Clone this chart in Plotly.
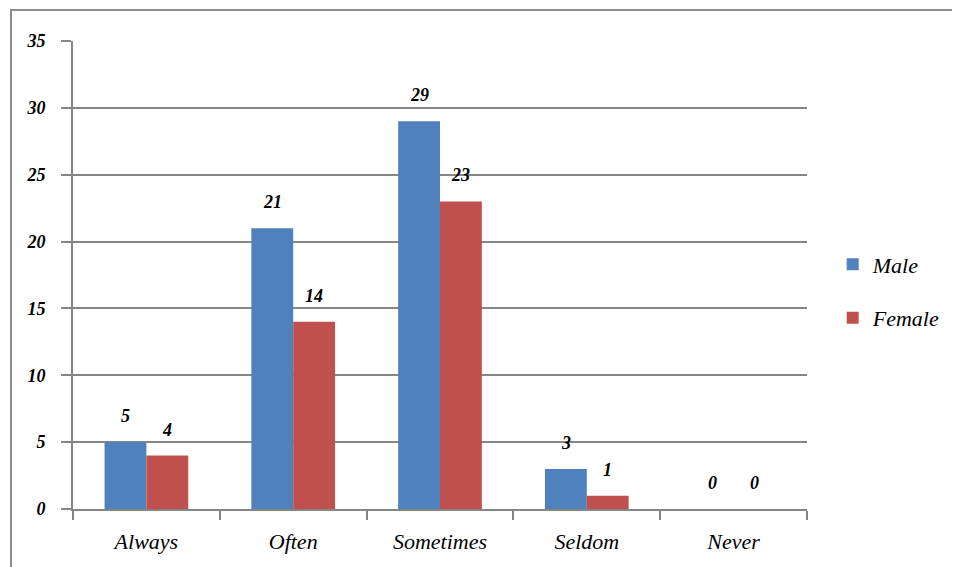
import plotly.graph_objects as go

categories = ["Always", "Often", "Sometimes", "Seldom", "Never"]
male = [5, 21, 29, 3, 0]
female = [4, 14, 23, 1, 0]
y_ticks = [0, 5, 10, 15, 20, 25, 30, 35]

label_font = dict(family="Liberation Serif", size=18, color="black", style="italic", weight="bold")

# page body has an 8px offset; margins compensate
L, R, T, B = 65, 161, 33, 66
W, H = 960, 567
pw, ph = W - L - R, H - T - B
BARGAP = 0.43
half_bar_px = pw / len(categories) * (1 - BARGAP) / 4

fig = go.Figure()
fig.add_trace(go.Bar(x=categories, y=male, name="Male", marker_color="#4F81BD",
                     marker_line_width=0, legendgroup="m"))
fig.add_trace(go.Bar(x=categories, y=female, name="Female", marker_color="#C0504D",
                     marker_line_width=0, legendgroup="f"))

annotations = []
for series, sign in ((male, -1), (female, 1)):
    for c, v in zip(categories, series):
        annotations.append(dict(
            x=c, y=v, xref="x", yref="y", text=str(v), showarrow=False,
            xanchor="center", yanchor="middle", xshift=sign * half_bar_px, yshift=26,
            font=label_font,
        ))

fig.update_layout(
    width=W, height=H,
    margin=dict(l=L, r=R, t=T, b=B),
    paper_bgcolor="white", plot_bgcolor="white",
    barmode="group", bargap=BARGAP, bargroupgap=0,
    showlegend=True,
    legend=dict(
        x=1.035, y=0.465, xanchor="left", yanchor="middle",
        font=dict(family="Liberation Serif", size=22, color="black", style="italic"),
        traceorder="grouped", tracegroupgap=22, itemwidth=30,
    ),
    annotations=annotations,
    xaxis=dict(
        showgrid=False, showline=True, linecolor="#868686", linewidth=2,
        ticks="outside", tickson="boundaries", ticklen=9, tickwidth=2, tickcolor="#868686",
        ticklabelstandoff=12,
        tickfont=dict(family="Liberation Serif", size=22, color="black", style="italic"),
    ),
    yaxis=dict(
        range=[0, 35], tickvals=y_ticks, showgrid=True, gridcolor="#868686", gridwidth=2,
        showline=True, linecolor="#868686", linewidth=2, zeroline=False,
        ticks="outside", ticklen=10, tickwidth=2, tickcolor="#868686",
        ticklabelstandoff=12,
        tickfont=dict(family="Liberation Serif", size=18, color="black", style="italic", weight="bold"),
    ),
    shapes=[dict(
        type="rect", xref="paper", yref="paper",
        x0=(3 - L) / pw, x1=2.0, y0=-1.0, y1=(H - B - 2) / ph,
        line=dict(color="#8C8C8C", width=2), fillcolor="rgba(0,0,0,0)", layer="below",
    )],
)

fig.write_html("out.html")
